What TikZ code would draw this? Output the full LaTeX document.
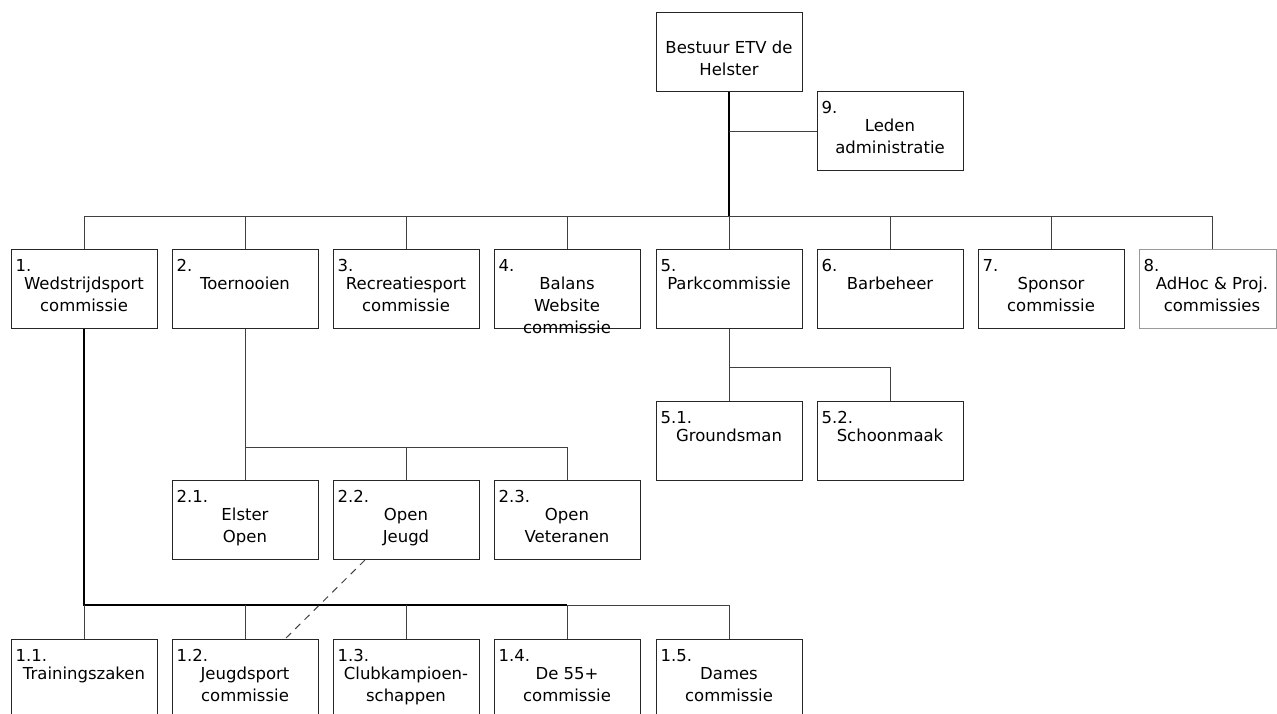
\documentclass[tikz,border=0pt]{standalone}
\usepackage{fontspec}
\setmainfont{DejaVu Sans}
% name, cx, top, number, text, style, extra lines
\newcommand\orgbox[7]{%
  \node[#6] (#1) at (#2,#3) {};
  \node[num] (#1n) at ([xshift=5pt,yshift=-22pt]#1.north west) {#4};
  \node[txt] (#1t) at ([yshift={-40pt-22pt*#7}]#1.north) {#5};
}
\begin{document}
\begin{tikzpicture}[x=1pt,y=-1pt,
  box/.style={draw=black!85, line width=1pt, minimum width=146pt, minimum height=79pt, inner sep=0pt, anchor=north},
  gbox/.style={box, draw=black!40, minimum width=137pt},
  num/.style={anchor=base west, inner sep=0pt, font=\fontsize{16.5}{22}\selectfont},
  txt/.style={anchor=base, inner sep=0pt, align=center, font=\fontsize{16.5}{22}\selectfont},
  trunk/.style={line width=2pt, draw=black},
  conn/.style={line width=1pt, draw=black!75}]
\useasboundingbox (0,0) rectangle (1277,713);
\clip (0,0) rectangle (1277,713);

% top
\node[box] (B) at (729,12) {};
\node[txt] (Bt) at ([yshift=-63pt]B.north) {Bestuur ETV de\\Helster};
\orgbox{L9}{890}{91}{9.}{Leden\\administratie}{box}{1}

% row 1
\orgbox{rA}{84}{249}{1.}{Wedstrijdsport\\commissie}{box}{1}
\orgbox{rB}{245}{249}{2.}{Toernooien}{box}{0}
\orgbox{rC}{406}{249}{3.}{Recreatiesport\\commissie}{box}{1}
\orgbox{rD}{567}{249}{4.}{Balans\\Website\\commissie}{box}{2}
\orgbox{rE}{729}{249}{5.}{Parkcommissie}{box}{0}
\orgbox{rF}{890}{249}{6.}{Barbeheer}{box}{0}
\orgbox{rG}{1051}{249}{7.}{Sponsor\\commissie}{box}{1}
\node[gbox] (rH) at (1207.5,249) {};
\node[num] (rHn) at ([xshift=5pt,yshift=-22pt]rH.north west) {8.};
\node[txt] (rHt) at (1212,311) {AdHoc \& Proj.\\commissies};

% 5.x
\orgbox{pA}{729}{401}{5.1.}{Groundsman}{box}{0}
\orgbox{pB}{890}{401}{5.2.}{Schoonmaak}{box}{0}

% 2.x
\orgbox{tA}{245}{480}{2.1.}{Elster\\Open}{box}{1}
\orgbox{tB}{406}{480}{2.2.}{Open\\Jeugd}{box}{1}
\orgbox{tC}{567}{480}{2.3.}{Open\\Veteranen}{box}{1}

% 1.x
\orgbox{wA}{84}{639}{1.1.}{Trainingszaken}{box}{0}
\orgbox{wB}{245}{639}{1.2.}{Jeugdsport\\commissie}{box}{1}
\orgbox{wC}{406}{639}{1.3.}{Clubkampioen-\\schappen}{box}{1}
\orgbox{wD}{567}{639}{1.4.}{De 55+\\commissie}{box}{1}
\orgbox{wE}{729}{639}{1.5.}{Dames\\commissie}{box}{1}

% connectors top
\coordinate (b1) at (729,216);
\coordinate (b1L) at (84,216);
\coordinate (b1R) at (1212,216);
\draw[trunk] (B.south) -- (b1);
\draw[conn] (B.south |- L9.west) -- (L9.west);
\draw[conn] (b1L) -- (b1R);
\foreach \n in {rA,rB,rC,rD,rE,rF,rG}
  \draw[conn] (b1 -| \n.north) -- (\n.north);
\draw[conn] (b1R) -- (b1R |- rH.north);

% 2.x
\coordinate (b2L) at (245,447);
\coordinate (b2R) at (567,447);
\draw[conn] (rB.south) -- (b2L) -- (b2R);
\foreach \n in {tA,tB,tC}
  \draw[conn] (b2L -| \n.north) -- (\n.north);

% 5.x
\coordinate (b5L) at (729,367);
\coordinate (b5R) at (890,367);
\draw[conn] (rE.south) -- (b5L) -- (b5R);
\foreach \n in {pA,pB}
  \draw[conn] (b5L -| \n.north) -- (\n.north);

% 1.x
\coordinate (b3L) at (84,605);
\coordinate (b3M) at (567,605);
\coordinate (b3R) at (729,605);
\draw[trunk] (rA.south) -- (b3L) -- (b3M);
\draw[conn] (b3M) -- (b3R);
\foreach \n in {wA,wB,wC,wD,wE}
  \draw[conn] (b3L -| \n.north) -- (\n.north);

% dashed link
\draw[conn, dash pattern=on 7pt off 6pt] ([xshift=-41pt]tB.south) -- ([xshift=40pt]wB.north);
\end{tikzpicture}
\end{document}
